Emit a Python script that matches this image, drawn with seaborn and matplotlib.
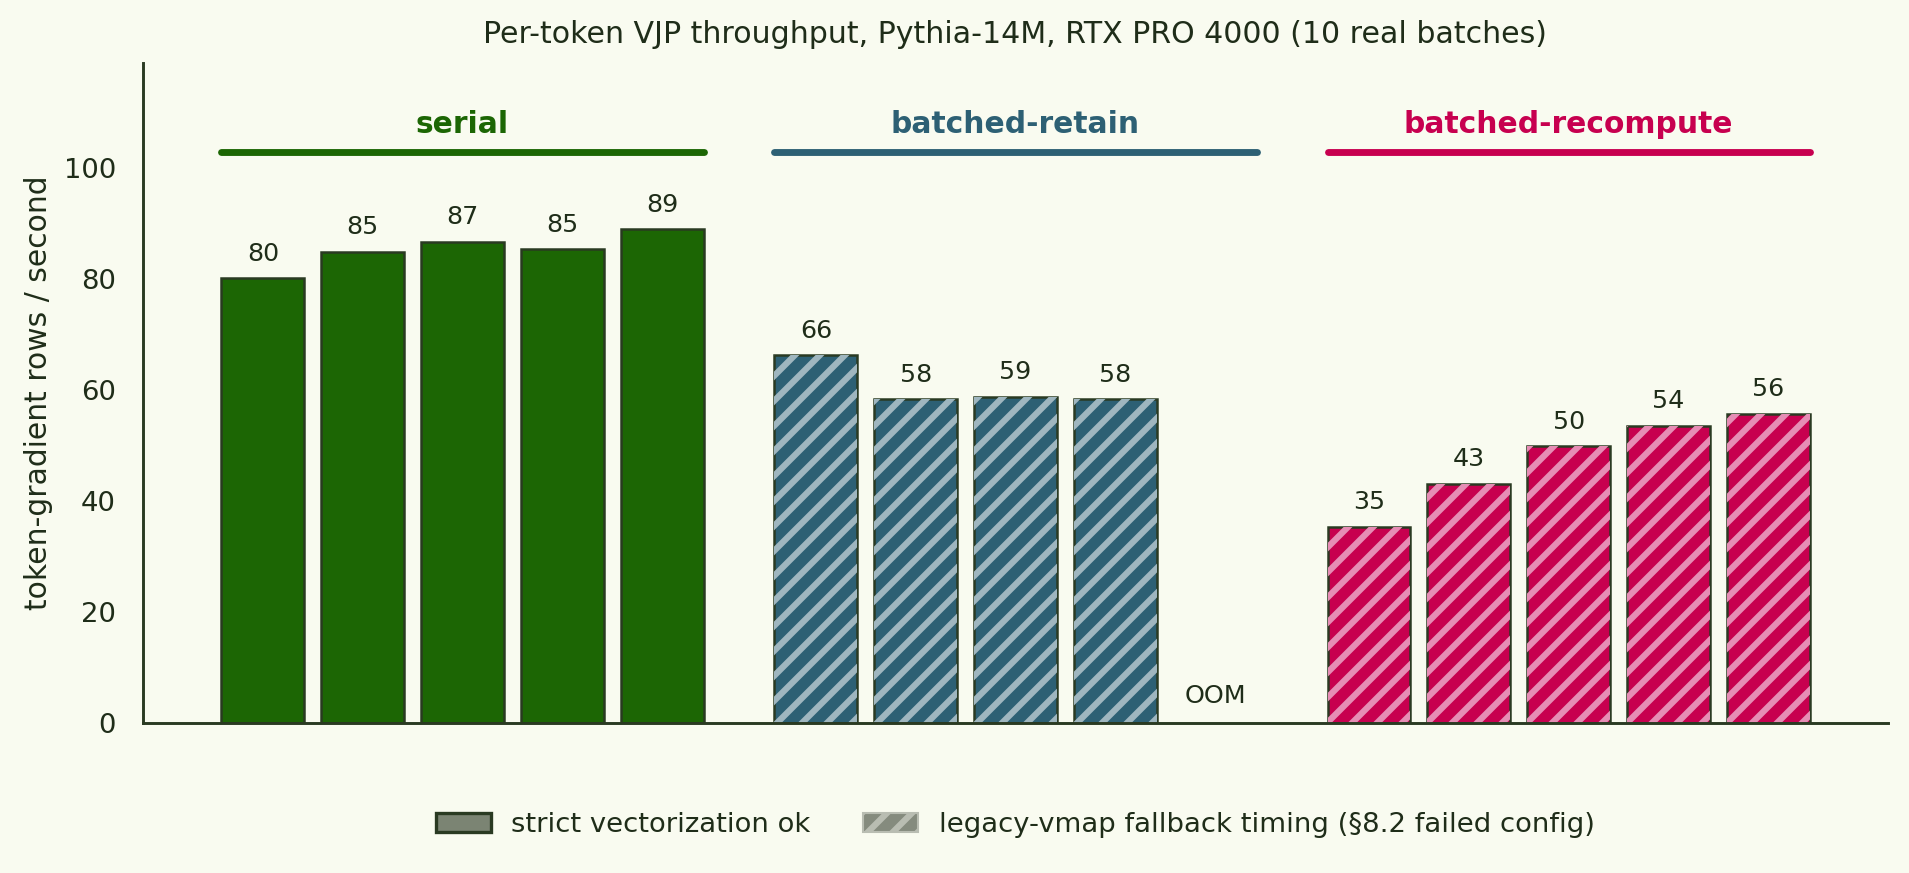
import numpy as np
import pandas as pd
import matplotlib
matplotlib.use("Agg")
import matplotlib.pyplot as plt
from matplotlib.patches import Patch, Rectangle
import seaborn as sns

#------------------------------------------------------------------------------
# DATA
#------------------------------------------------------------------------------

groups = ["serial", "batched-retain", "batched-recompute"]
serial = [80.2, 85.0, 86.8, 85.4, 89.0]
retain = [66.3, 58.4, 58.8, 58.4, np.nan]   # last config ran out of memory
recompute = [35.4, 43.1, 49.9, 53.6, 55.8]
hatched = [False, True, True]

group_colors = ["#1c6604", "#2d6074", "#c7004f"]
hatch_colors = [None, "#9fb6bf", "#e68db5"]

title = "Per-token VJP throughput, Pythia-14M, RTX PRO 4000 (10 real batches)"
ylabel = "token-gradient rows / second"
legend_labels = ["strict vectorization ok", "legacy-vmap fallback timing (§8.2 failed config)"]

#------------------------------------------------------------------------------
# SETUP
#------------------------------------------------------------------------------

bg = "#f9fbf0"
ink = "#1f2d19"
edge = "#2a3a22"
group_step = 5.54   # bar slots per group incl. gap
bar_w = 0.83

sns.set_theme(style="white")
plt.rcParams["font.family"] = ["DejaVu Sans"]
plt.rcParams["hatch.linewidth"] = 3.0
plt.rcParams["text.color"] = ink
plt.rcParams["axes.labelcolor"] = ink
plt.rcParams["ytick.color"] = ink

rows = []
for g, vals in enumerate([serial, retain, recompute]):
    for i, v in enumerate(vals):
        rows.append({"x": g * group_step + i, "value": v, "group": groups[g], "slot": i})
df = pd.DataFrame(rows)
drawn = df[df.value.notna()]

#------------------------------------------------------------------------------
# PLOTTING
#------------------------------------------------------------------------------

fig = plt.figure(figsize=(1910 / 150, 873 / 150), dpi=150, facecolor=bg)
ax = fig.add_axes([0.0749, 0.1718, 0.9136, 0.756])
ax.set_facecolor(bg)

sns.barplot(data=drawn, x="x", y="value", hue="group", hue_order=groups,
            palette=group_colors, native_scale=True, width=bar_w, errorbar=None,
            edgecolor=edge, linewidth=1.2, legend=False, saturation=1, ax=ax)

# hatch overlay on the legacy-vmap bars, drawn on top of the dark outline
for p in list(ax.patches):
    cx = p.get_x() + p.get_width() / 2
    g = groups.index(drawn.loc[(drawn.x - cx).abs().idxmin(), "group"])
    if hatched[g]:
        ax.add_patch(Rectangle(p.get_xy(), p.get_width(), p.get_height(), fill=False,
                               hatch="//", edgecolor=hatch_colors[g], linewidth=0))

# value labels
for _, r in drawn.iterrows():
    ax.annotate(f"{r.value:.0f}", (r.x, r.value), xytext=(0, 6), textcoords="offset points",
                ha="center", va="bottom", fontsize=12.2, color=ink)

# OOM marker
for _, r in df[df.value.isna()].iterrows():
    ax.text(r.x, 4.8, "OOM", ha="center", va="center", fontsize=12.2, color=ink)

# group headers with rule
for g, name in enumerate(groups):
    xs = df[df.group == name].x
    x0, x1 = xs.min() - bar_w / 2, xs.max() + bar_w / 2
    ax.plot([x0, x1], [103, 103], color=group_colors[g], lw=3.3, solid_capstyle="round")
    ax.text((x0 + x1) / 2, 108.0, name, ha="center", va="center", fontsize=14.3,
            fontweight="bold", color=group_colors[g])

ax.set_xlim(-1.2, df.x.max() + 1.2)
ax.set_ylim(0, 119)
ax.set_yticks([0, 20, 40, 60, 80, 100])
ax.tick_params(axis="y", length=0, pad=13, labelsize=13.2)
ax.set_xticks([])
ax.set_xlabel("")
ax.set_ylabel(ylabel, fontsize=14.3, labelpad=5)
sns.despine(ax=ax)
for s in ["left", "bottom"]:
    ax.spines[s].set_color(edge)
    ax.spines[s].set_linewidth(1.4)

fig.text(0.5315, 0.96, title, ha="center", va="center", fontsize=14.4, color=ink)

handles = [
    Patch(facecolor="#7b8473", edgecolor=edge, linewidth=1.6),
    Patch(facecolor="#858b7e", edgecolor="#b9bdb2", hatch="//", linewidth=1.0),
]
fig.legend(handles, legend_labels, loc="center", bbox_to_anchor=(0.5315, 0.055), ncol=2,
           frameon=False, fontsize=13.2, columnspacing=1.9, handletextpad=0.75)

fig.savefig("out.png", dpi=150, facecolor=bg)
plt.close(fig)
